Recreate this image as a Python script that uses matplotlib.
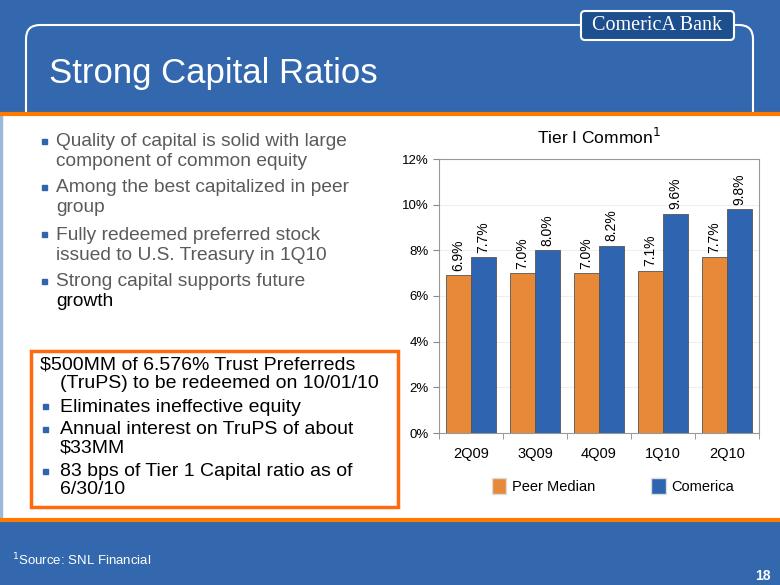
import matplotlib
matplotlib.use('Agg')
import matplotlib.pyplot as plt
from matplotlib.patches import FancyBboxPatch, Rectangle, Patch
import numpy as np

plt.rcParams['font.family'] = ['Liberation Sans', 'DejaVu Sans']

# donnees du graphique
quarters = ['2Q09', '3Q09', '4Q09', '1Q10', '2Q10']
peer_median = [6.9, 7.0, 7.0, 7.1, 7.7]
comerica = [7.7, 8.0, 8.2, 9.6, 9.8]
series_names = ['Peer Median', 'Comerica']
y_ticks = [0, 2, 4, 6, 8, 10, 12]

# texte de gauche, une entree par ligne: (texte, puce?, couleur)
top_lines = [('Quality of capital is solid with large', True, '#5a5a5a'),
             ('component of common equity', False, '#5a5a5a'),
             ('Among the best capitalized in peer', True, '#5a5a5a'),
             ('group', False, '#5a5a5a'),
             ('Fully redeemed preferred stock', True, '#5a5a5a'),
             ('issued to U.S. Treasury in 1Q10', False, '#5a5a5a'),
             ('Strong capital supports future', True, '#5a5a5a'),
             ('growth', False, 'black')]
top_y = [142, 162, 188, 208, 235, 255, 282, 302]

box_lines = [('$500MM of 6.576% Trust Preferreds', None, 40),
             ('(TruPS) to be redeemed on 10/01/10', None, 60),
             ('Eliminates ineffective equity', True, 60),
             ('Annual interest on TruPS of about', True, 60),
             ('$33MM', False, 60),
             ('83 bps of Tier 1 Capital ratio as of', True, 60),
             ('6/30/10', False, 60)]
box_y = [365, 384, 407, 430, 448, 472, 490]

blue_bg = '#3468ae'
orange = '#e8893a'
blue_bar = '#2e64b0'

W, H = 780, 585
fig = plt.figure(figsize=(W / 100, H / 100), dpi=100)

# fond en coordonnees pixels
bg = fig.add_axes([0, 0, 1, 1])
bg.set_xlim(0, W)
bg.set_ylim(H, 0)
bg.axis('off')
bg.add_patch(Rectangle((0, 0), W, H, color=blue_bg, zorder=0))

# cadre arrondi du titre
bg.add_patch(FancyBboxPatch((26, 25), 727, 150, boxstyle='round,pad=0,rounding_size=14',
                            fill=False, ec='white', lw=1.5, zorder=1))
# logo
bg.add_patch(FancyBboxPatch((581, 11), 153, 29, boxstyle='round,pad=0,rounding_size=4',
                            fc='#1d4f8f', ec='white', lw=1.5, zorder=3))
bg.text(657, 26, 'ComericA Bank', color='white', fontsize=14.5, family='Liberation Serif',
        ha='center', va='center', zorder=4)
bg.text(49, 73, 'Strong Capital Ratios', color='white', fontsize=25, va='center', zorder=4)

# panneau blanc
bg.add_patch(Rectangle((0, 114), W, 406, color='white', zorder=2))
bg.add_patch(Rectangle((0, 114), 2, 406, color='#9ab8dc', zorder=3))
bg.plot([0, W], [114, 114], color='#ff7a00', lw=3, zorder=3)
bg.plot([0, W], [520, 520], color='#ff7a00', lw=3, zorder=3)

# puces du haut
for (t, bullet, c), y in zip(top_lines, top_y):
    if bullet:
        bg.add_patch(Rectangle((41.5, y - 3), 5, 5, color='#2e64b0', zorder=4))
    bg.text(56, y, t, color=c, fontsize=13.8, va='center', zorder=4)

# encadre orange
bg.add_patch(Rectangle((31, 351), 367, 156, fill=False, ec='#ff6a10', lw=2.5, zorder=4))
for (t, bullet, x0), y in zip(box_lines, box_y):
    if bullet:
        bg.add_patch(Rectangle((43, y - 3), 5, 5, color='#2e64b0', zorder=4))
    bg.text(x0, y, t, color='black', fontsize=14, va='center', zorder=4)

# pied de page
bg.text(12, 560, '$^1$Source: SNL Financial', color='white', fontsize=9.5, va='center', zorder=4)
bg.text(771, 576, '18', color='white', fontsize=10, fontweight='bold', ha='right', va='center', zorder=4)

# graphique
ax = fig.add_axes([439 / W, 1 - 433 / H, 320 / W, 274 / H], zorder=5)
ax.patch.set_alpha(0)
x = np.arange(len(quarters))
bw = 0.39
b1 = ax.bar(x - bw / 2, peer_median, bw, color=orange, edgecolor='#555555', lw=0.6, zorder=3)
b2 = ax.bar(x + bw / 2, comerica, bw, color=blue_bar, edgecolor='#555555', lw=0.6, zorder=3)
for bars, vals in [(b1, peer_median), (b2, comerica)]:
    for r, v in zip(bars, vals):
        ax.text(r.get_x() + r.get_width() / 2, v + 0.2, f'{v:.1f}%', rotation=90,
                ha='center', va='bottom', fontsize=10)
ax.set_xlim(-0.5, 4.5)
ax.set_ylim(0, 12)
ax.set_yticks(y_ticks)
ax.set_yticklabels([f'{t}%' for t in y_ticks], fontsize=9.5)
ax.set_xticks(x)
ax.set_xticklabels(quarters, fontsize=10.5)
ax.tick_params(axis='x', length=0, pad=10)
ax.set_xticks(np.arange(-0.5, 5, 1), minor=True)
ax.tick_params(axis='x', which='minor', length=4, color='#888888')
ax.tick_params(axis='y', length=4, color='#888888')
ax.yaxis.grid(True, color='#eeeeee', lw=0.8)
for s in ax.spines.values():
    s.set_color('#999999')
ax.set_title('Tier I Common$^1$', fontsize=12.5, pad=11)

handles = [Patch(fc=orange, ec='#dddddd'), Patch(fc=blue_bar, ec='#dddddd')]
fig.legend(handles, series_names, ncol=2, frameon=False, fontsize=10.5,
           loc='center', bbox_to_anchor=(613 / W, 1 - 486 / H),
           handlelength=1.0, handleheight=1.3, columnspacing=3.8, handletextpad=0.4)

fig.savefig('out.png', dpi=100)
